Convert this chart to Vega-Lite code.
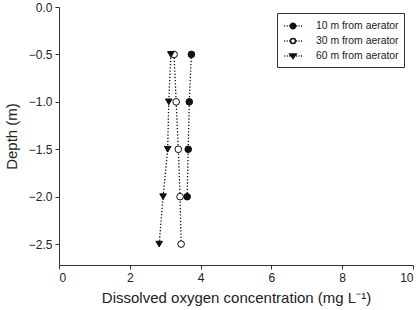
{
  "$schema": "https://vega.github.io/schema/vega-lite/v6.json",
  "autosize": "none",
  "width": 354,
  "height": 258,
  "padding": {"left": 59, "top": 7, "right": 7, "bottom": 45},
  "background": "white",
  "config": {
    "view": {"stroke": null},
    "font": "Liberation Sans",
    "axis": {"grid": false, "domainColor": "#333", "tickColor": "#333", "labelColor": "#222", "titleColor": "#222", "labelFontSize": 12, "titleFontSize": 15, "titleFontWeight": "normal", "tickSize": 4, "labelPadding": 3}
  },
  "datasets": {
    "obs": [
      {"series": "10 m from aerator", "depth": -0.5, "do": 3.74},
      {"series": "10 m from aerator", "depth": -1.0, "do": 3.68},
      {"series": "10 m from aerator", "depth": -1.5, "do": 3.65},
      {"series": "10 m from aerator", "depth": -2.0, "do": 3.62},
      {"series": "30 m from aerator", "depth": -0.5, "do": 3.25},
      {"series": "30 m from aerator", "depth": -1.0, "do": 3.31},
      {"series": "30 m from aerator", "depth": -1.5, "do": 3.37},
      {"series": "30 m from aerator", "depth": -2.0, "do": 3.42},
      {"series": "30 m from aerator", "depth": -2.5, "do": 3.45},
      {"series": "60 m from aerator", "depth": -0.5, "do": 3.16},
      {"series": "60 m from aerator", "depth": -1.0, "do": 3.10},
      {"series": "60 m from aerator", "depth": -1.5, "do": 3.07},
      {"series": "60 m from aerator", "depth": -2.0, "do": 2.94},
      {"series": "60 m from aerator", "depth": -2.5, "do": 2.83}
    ],
    "key": [
      {"label": "10 m from aerator"},
      {"label": "30 m from aerator"},
      {"label": "60 m from aerator"}
    ]
  },
  "data": {"name": "obs"},
  "encoding": {
    "x": {"field": "do", "type": "quantitative", "scale": {"domain": [0, 10], "nice": false}, "axis": {"values": [0, 2, 4, 6, 8, 10], "title": "Dissolved oxygen concentration (mg L⁻¹)", "titlePadding": 7}},
    "y": {"field": "depth", "type": "quantitative", "scale": {"domain": [-2.72, 0], "nice": false}, "axis": {"values": [0, -0.5, -1, -1.5, -2, -2.5], "format": ".1f", "title": "Depth (m)", "titlePadding": 9}}
  },
  "resolve": {"scale": {"shape": "independent", "fill": "independent"}},
  "layer": [
    {
      "mark": {"type": "line", "color": "#111", "strokeWidth": 1.3, "strokeDash": [1.3, 1.9]},
      "encoding": {"detail": {"field": "series"}, "order": {"field": "depth", "sort": "descending"}}
    },
    {
      "mark": {"type": "point", "size": 44, "strokeWidth": 1, "opacity": 1, "filled": true},
      "encoding": {
        "shape": {"field": "series", "type": "nominal", "scale": {"range": ["circle", "circle", "triangle-down"]}, "legend": null},
        "fill": {"field": "series", "type": "nominal", "scale": {"range": ["#111", "white", "#111"]}, "legend": null},
        "stroke": {"value": "#111"}
      }
    },
    {
      "data": {"name": "key"},
      "mark": {"type": "point", "filled": true, "strokeWidth": 1, "opacity": 1},
      "encoding": {
        "shape": {"field": "label", "type": "nominal",
          "scale": {"domain": ["10 m from aerator", "30 m from aerator", "60 m from aerator"], "range": [
            "M-1.25,0h0.14M-0.9,0h0.14M-0.55,0h0.14M0.45,0h0.14M0.8,0h0.14M1.15,0h0.14M-0.38,0A0.38,0.38 0 1,0 0.38,0A0.38,0.38 0 1,0 -0.38,0Z",
            "M-1.25,0h0.14M-0.9,0h0.14M-0.55,0h0.14M0.45,0h0.14M0.8,0h0.14M1.15,0h0.14M-0.36,0A0.36,0.36 0 1,0 0.36,0A0.36,0.36 0 1,0 -0.36,0Z",
            "M-1.25,0h0.14M-0.9,0h0.14M-0.55,0h0.14M0.45,0h0.14M0.8,0h0.14M1.15,0h0.14M-0.46,-0.3L0.46,-0.3L0,0.36Z"
          ]},
          "legend": {"title": null, "orient": "none", "legendX": 218, "legendY": 6, "strokeColor": "#333", "padding": 5, "labelFontSize": 10.4, "labelColor": "#222", "rowPadding": 1, "symbolSize": 196, "symbolOffset": 3, "labelOffset": 15, "symbolOpacity": 1,
            "encode": {"symbols": {"update": {"stroke": {"value": "#111"}, "strokeWidth": {"value": 1}, "strokeOpacity": {"value": 1}}}}}},
        "fill": {"field": "label", "type": "nominal", "scale": {"domain": ["10 m from aerator", "30 m from aerator", "60 m from aerator"], "range": ["#111", "white", "#111"]}},
        "stroke": {"value": "#111"}
      }
    }
  ]
}
